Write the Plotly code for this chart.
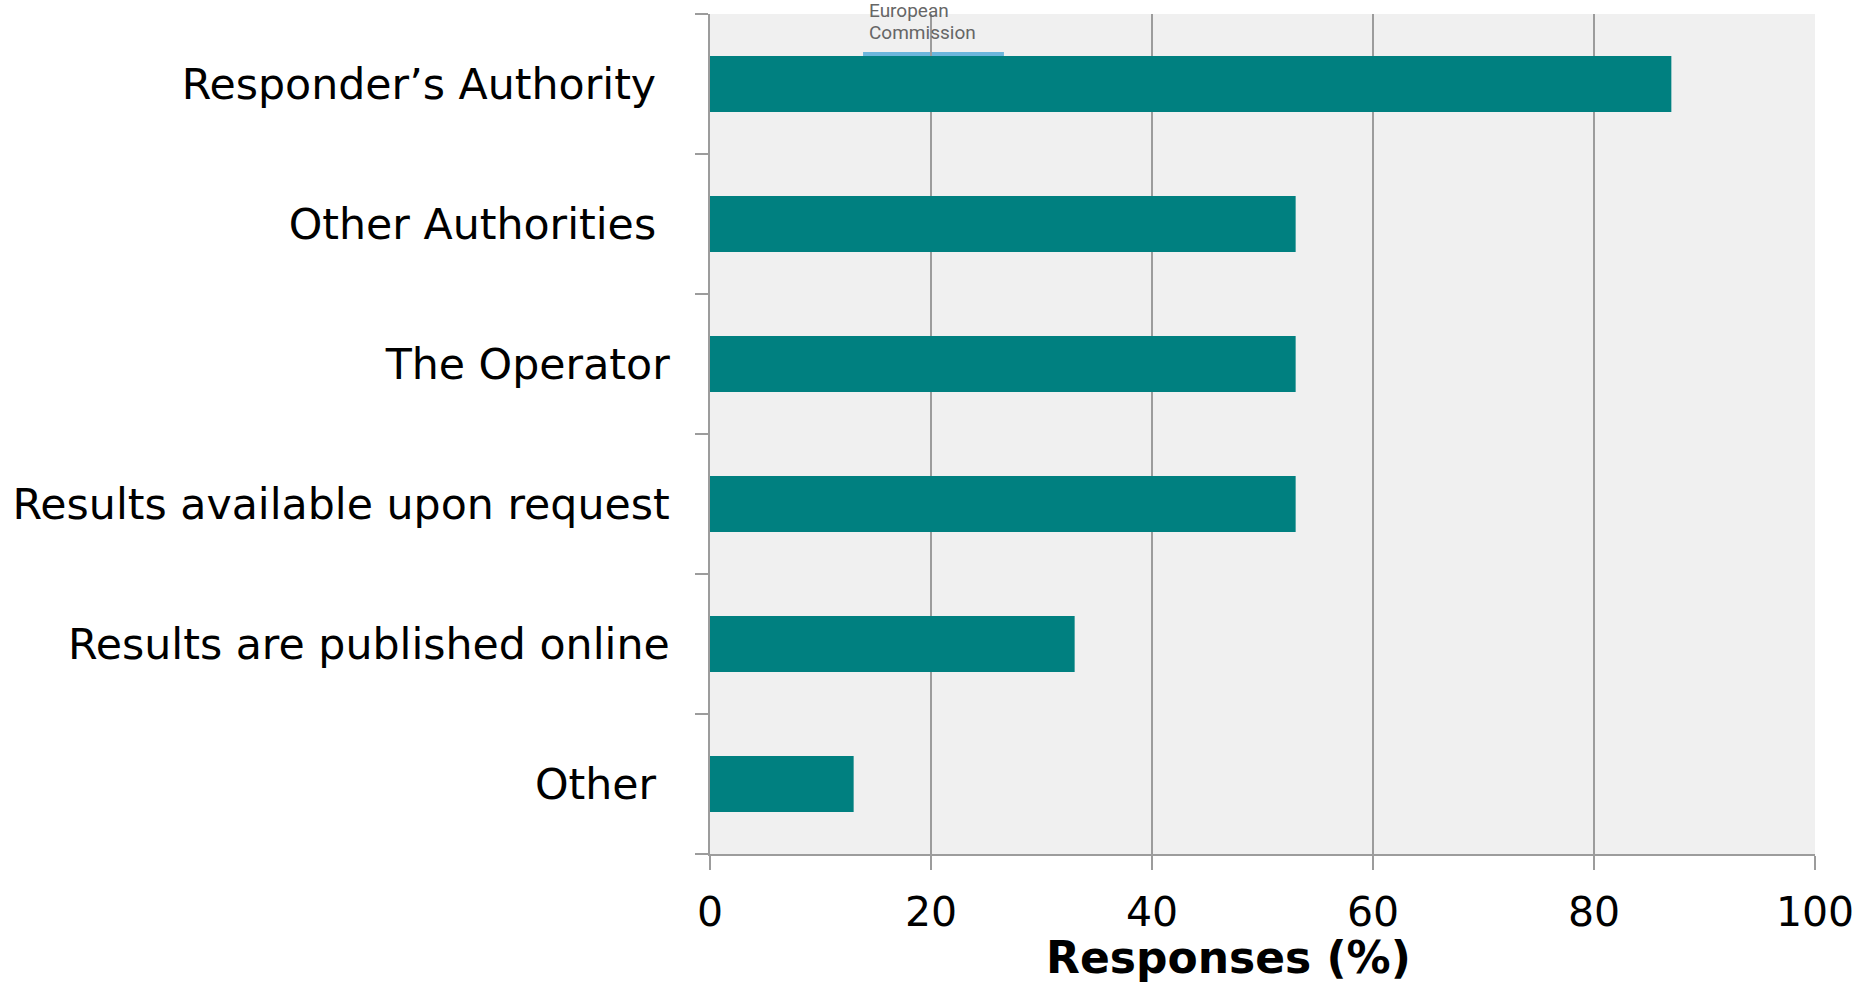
import plotly.graph_objects as go

# Survey categories (top to bottom) and share of responses in %
categories = [
    "Responder’s Authority",
    "Other Authorities",
    "The Operator",
    "Results available upon request",
    "Results are published online",
    "Other",
]
responses = [87, 53, 53, 53, 33, 13]
# Displayed tick text (some labels carry a trailing space)
tick_text = [
    "Responder’s Authority\u00a0",
    "Other Authorities\u00a0",
    "The Operator",
    "Results available upon request",
    "Results are published online",
    "Other\u00a0",
]
x_ticks = [0, 20, 40, 60, 80, 100]

FONT = "DejaVu Sans"
GRID = "#9c9c9c"

fig = go.Figure(
    go.Bar(
        x=responses,
        y=categories,
        orientation="h",
        width=0.4,
        marker=dict(color="#008080", line=dict(width=0)),
        hoverinfo="skip",
    )
)

fig.update_layout(
    width=1871,
    height=982,
    margin=dict(l=710, r=56, t=14, b=128),
    paper_bgcolor="white",
    plot_bgcolor="#f0f0f0",
    showlegend=False,
    font=dict(family=FONT, color="black"),
    bargap=0.6,
)

fig.update_xaxes(
    range=[0, 100],
    tickvals=x_ticks,
    ticktext=[str(v) for v in x_ticks],
    showgrid=True,
    gridcolor=GRID,
    gridwidth=1.5,
    zeroline=False,
    showline=True,
    linecolor=GRID,
    linewidth=1.5,
    ticks="outside",
    ticklen=14,
    tickwidth=1.5,
    tickcolor=GRID,
    tickfont=dict(family=FONT, size=41, color="black"),
    ticklabelstandoff=7,
    automargin=False,
    fixedrange=True,
)

fig.update_yaxes(
    type="category",
    categoryorder="array",
    categoryarray=categories,
    autorange="reversed",
    tickvals=categories,
    ticktext=tick_text,
    tickson="boundaries",
    showgrid=False,
    zeroline=False,
    showline=True,
    linecolor=GRID,
    linewidth=1.5,
    ticks="outside",
    ticklen=13,
    tickwidth=1.5,
    tickcolor=GRID,
    tickfont=dict(family=FONT, size=42.7, color="black"),
    ticklabelstandoff=30,
    automargin=False,
    fixedrange=True,
)

# Axis title
fig.add_annotation(
    text="<b>Responses (%)</b>",
    xref="paper", yref="paper",
    x=0.4688, y=-0.1238,
    xanchor="center", yanchor="middle",
    showarrow=False,
    font=dict(family=FONT, size=44, color="black"),
)

# European Commission logo mark
fig.add_shape(
    type="rect",
    xref="paper", yref="paper",
    x0=0.1385, x1=0.266, y0=0.933, y1=0.9548,
    fillcolor="#6cb6dc",
    line=dict(width=0),
    layer="below",
)
for line_text, y_pos in [("European", 1.0036), ("Commission", 0.9774)]:
    fig.add_annotation(
        text=line_text,
        xref="paper", yref="paper",
        x=0.142, y=y_pos,
        xanchor="left", yanchor="middle",
        align="left",
        showarrow=False,
        font=dict(family="Roboto", size=19, color="#666666"),
    )

fig.write_html("out.html")
